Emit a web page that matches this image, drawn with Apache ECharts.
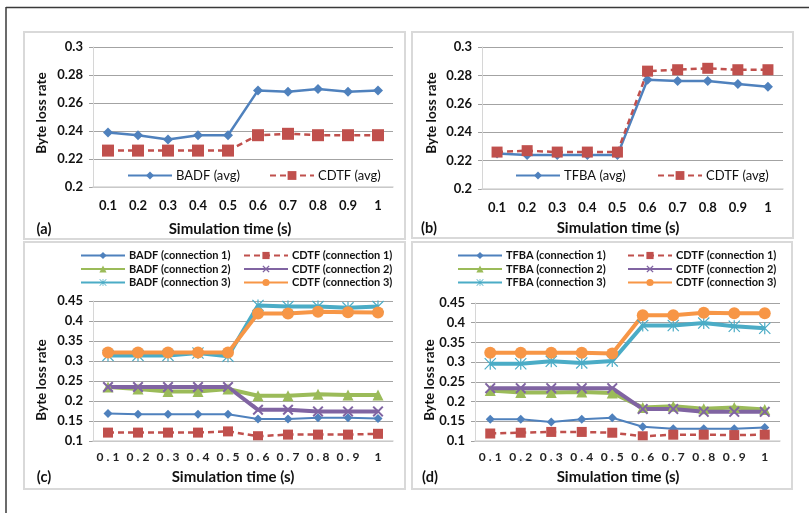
<!DOCTYPE html>
<html>
<head>
<meta charset="utf-8">
<script src="https://cdn.jsdelivr.net/npm/echarts@6/dist/echarts.min.js"></script>
<style>
html,body{margin:0;padding:0;background:#fff;}
#chart{width:809px;height:513px;}
</style>
</head>
<body>
<div id="chart"></div>
<script>
// ---- data ----
const categories = ['0.1','0.2','0.3','0.4','0.5','0.6','0.7','0.8','0.9','1'];
const yTicksAB = [0.2, 0.3, 0.02];
const yTicksCD = [0.1, 0.45, 0.05];
// panel (a)
const badfAvg  = [0.239,0.237,0.234,0.237,0.237,0.269,0.268,0.270,0.268,0.269];
const cdtfAvgA = [0.226,0.226,0.226,0.226,0.226,0.237,0.238,0.237,0.237,0.237];
// panel (b)
const tfbaAvg  = [0.225,0.224,0.224,0.224,0.224,0.277,0.276,0.276,0.274,0.272];
const cdtfAvgB = [0.226,0.227,0.226,0.226,0.226,0.283,0.284,0.285,0.284,0.284];
// panel (c)
const badfConn1  = [0.169,0.167,0.167,0.167,0.167,0.155,0.155,0.158,0.158,0.156];
const cdtfConn1C = [0.121,0.121,0.121,0.121,0.124,0.112,0.116,0.116,0.116,0.118];
const badfConn2  = [0.235,0.230,0.224,0.224,0.230,0.213,0.213,0.217,0.215,0.215];
const cdtfConn2C = [0.235,0.235,0.235,0.235,0.235,0.178,0.178,0.174,0.174,0.174];
const badfConn3  = [0.314,0.314,0.314,0.320,0.312,0.439,0.436,0.436,0.433,0.436];
const cdtfConn3C = [0.321,0.321,0.321,0.321,0.321,0.419,0.419,0.423,0.422,0.421];
// panel (d)
const tfbaConn1  = [0.155,0.155,0.148,0.155,0.159,0.136,0.131,0.131,0.131,0.134];
const cdtfConn1D = [0.119,0.121,0.123,0.123,0.121,0.112,0.116,0.116,0.115,0.116];
const tfbaConn2  = [0.228,0.223,0.223,0.224,0.222,0.185,0.188,0.182,0.185,0.180];
const cdtfConn2D = [0.234,0.234,0.234,0.234,0.234,0.181,0.181,0.174,0.174,0.174];
const tfbaConn3  = [0.296,0.296,0.302,0.298,0.303,0.393,0.393,0.399,0.391,0.386];
const cdtfConn3D = [0.324,0.324,0.324,0.324,0.322,0.419,0.419,0.425,0.424,0.424];

// ---- styles ----
const FONT = 'Lato, "Open Sans", sans-serif';
const TXT = '#111';
const C = {blue:'#4F81BD', red:'#C0504D', green:'#9BBB59', purple:'#8064A2', teal:'#4BACC6', orange:'#F79646'};
const X_PATH = 'path://M0,1.3 L1.3,0 L5,3.7 L8.7,0 L10,1.3 L6.3,5 L10,8.7 L8.7,10 L5,6.3 L1.3,10 L0,8.7 L3.7,5 Z';
const STAR_PATH = 'path://M0,0.7 L0.7,0 L5,4.3 L9.3,0 L10,0.7 L5.7,5 L10,9.3 L9.3,10 L5,5.7 L0.7,10 L0,9.3 L4.3,5 Z M4.5,0 L5.5,0 L5.5,10 L4.5,10 Z';

const grids = [
  {left:93, top:47, width:300, height:140},
  {left:482, top:47, width:301, height:142},
  {left:93, top:301, width:300, height:140},
  {left:475, top:303, width:305, height:138}
];

function xAxisFor(i, spaced, margin){
  return {
    type:'category', gridIndex:i, data:categories, boundaryGap:true,
    axisLine:{show:true, lineStyle:{color:'#d6d6d6', width:1.5}},
    axisTick:{show:false}, z:5,
    axisLabel:{
      interval:0, hideOverlap:false,
      margin:margin, color:TXT, fontFamily:FONT,
      fontSize: spaced ? 12 : 13, fontWeight: spaced ? 'normal' : 'bold',
      formatter: spaced ? (v => v.split('').map(ch => '{s|' + ch + '}').join('')) : undefined,
      rich: spaced ? {s:{fontFamily:FONT, fontSize:12, fontWeight:'bold', color:'#222', padding:[0,1.5,0,1.5]}} : undefined
    }
  };
}
function yAxisFor(i, t){
  return {
    type:'value', gridIndex:i, min:t[0], max:t[1], interval:t[2],
    axisLine:{show:true, lineStyle:{color:'#d6d6d6', width:1}},
    axisTick:{show:true, length:4, lineStyle:{color:'#a0a0a0'}},
    splitLine:{show:true, lineStyle:{color:'#a3a3a3', width:1}},
    axisLabel:{margin:10, color:TXT, fontFamily:FONT, fontSize:13, fontWeight:'bold'}
  };
}
function line(name, data, idx, color, symbol, size, width, dashed){
  return {
    type:'line', name:name, data:data, xAxisIndex:idx, yAxisIndex:idx,
    symbol:symbol, symbolSize:size, showAllSymbol:true,
    lineStyle:{color:color, width:width, type: dashed ? [6,4] : 'solid'},
    itemStyle:{color:color},
    emphasis:{disabled:true}, animation:false
  };
}
function legend(names, left, top, itemHeight, fontSize, bold, gap){
  return {
    data:names, left:left, top:top, orient:'vertical', itemWidth:44, itemHeight:itemHeight,
    itemGap:gap, selectedMode:false, padding:0,
    textStyle:{fontFamily:FONT, fontSize:fontSize, color:TXT, fontWeight: bold ? 'bold' : 'normal', padding:[0,0,0,-1]}
  };
}
function text(str, x, y, size, rot){
  return {
    type:'text', x:x, y:y, rotation: rot ? Math.PI/2 : 0, z:10,
    style:{text:str, x:0, y:0, fill:TXT, font:'bold ' + size + 'px ' + FONT, textAlign:'center', textVerticalAlign:'middle'}
  };
}
function box(x, y, w, h){
  return {type:'rect', shape:{x:x, y:y, width:w, height:h}, z:-10,
    style:{fill:'none', stroke:'#d9d9d9', lineWidth:2}};
}

const series = [
  line('BADF (avg)', badfAvg, 0, C.blue, 'diamond', 10, 2.5, false),
  line('CDTF (avg)', cdtfAvgA, 0, C.red, 'rect', 12, 2.5, true),
  line('TFBA (avg)', tfbaAvg, 1, C.blue, 'diamond', 10, 2.5, false),
  line('CDTF (avg)', cdtfAvgB, 1, C.red, 'rect', 11, 2.5, true),

  line('BADF (connection 1)', badfConn1, 2, C.blue, 'diamond', 9, 2, false),
  line('CDTF (connection 1)', cdtfConn1C, 2, C.red, 'rect', 10, 2.5, true),
  line('BADF (connection 2)', badfConn2, 2, C.green, 'triangle', 11, 4, false),
  line('CDTF (connection 2)', cdtfConn2C, 2, C.purple, X_PATH, 11, 4, false),
  line('BADF (connection 3)', badfConn3, 2, C.teal, STAR_PATH, 12, 4, false),
  line('CDTF (connection 3)', cdtfConn3C, 2, C.orange, 'circle', 12, 4, false),

  line('TFBA (connection 1)', tfbaConn1, 3, C.blue, 'diamond', 9, 2, false),
  line('CDTF (connection 1)', cdtfConn1D, 3, C.red, 'rect', 10, 2.5, true),
  line('TFBA (connection 2)', tfbaConn2, 3, C.green, 'triangle', 11, 4, false),
  line('CDTF (connection 2)', cdtfConn2D, 3, C.purple, X_PATH, 11, 4, false),
  line('TFBA (connection 3)', tfbaConn3, 3, C.teal, STAR_PATH, 12, 4, false),
  line('CDTF (connection 3)', cdtfConn3D, 3, C.orange, 'circle', 12, 4, false)
];

const option = {
  backgroundColor:'#fff',
  animation:false,
  grid: grids,
  xAxis:[xAxisFor(0,false,12), xAxisFor(1,false,12), xAxisFor(2,true,10), xAxisFor(3,true,10)],
  yAxis:[yAxisFor(0,yTicksAB), yAxisFor(1,yTicksAB), yAxisFor(2,yTicksCD), yAxisFor(3,yTicksCD)],
  legend:[
    legend(['BADF (avg)'], 127, 169, 10, 13, false, 0),
    legend(['CDTF (avg)'], 269, 169, 11, 13, false, 0),
    legend(['TFBA (avg)'], 515, 169, 10, 13, false, 0),
    legend(['CDTF (avg)'], 657, 169, 11, 13, false, 0),
    legend(['BADF (connection 1)','BADF (connection 2)','BADF (connection 3)'], 80, 250, 9, 11, true, 2.5),
    legend(['CDTF (connection 1)','CDTF (connection 2)','CDTF (connection 3)'], 243, 250, 9, 11, true, 2.5),
    legend(['TFBA (connection 1)','TFBA (connection 2)','TFBA (connection 3)'], 457, 250, 9, 11, true, 2.5),
    legend(['CDTF (connection 1)','CDTF (connection 2)','CDTF (connection 3)'], 627, 250, 9, 11, true, 2.5)
  ],
  graphic:[
    {type:'line', shape:{x1:6, y1:7.5, x2:809, y2:7.5}, style:{stroke:'#3a3a3a', lineWidth:1.5}, z:-10},
    {type:'line', shape:{x1:6, y1:7, x2:6, y2:513}, style:{stroke:'#3a3a3a', lineWidth:1.5}, z:-10},
    box(24, 32, 381, 207),
    box(412, 32, 381, 206),
    box(24, 242, 381, 247),
    box(412, 242, 380, 247),
    text('Byte loss rate', 42, 113, 13.5, true),
    text('Byte loss rate', 432, 113, 13.5, true),
    text('Byte loss rate', 42, 380, 13.5, true),
    text('Byte loss rate', 430, 380, 13.5, true),
    text('Simulation time (s)', 230, 229, 15, false),
    text('Simulation time (s)', 618, 228, 15, false),
    text('Simulation time (s)', 233, 477, 15, false),
    text('Simulation time (s)', 618, 477, 15, false),
    text('(a)', 44, 229, 14.5, false),
    text('(b)', 429, 228, 14.5, false),
    text('(c)', 44, 477, 14.5, false),
    text('(d)', 430, 477, 14.5, false)
  ],
  series: series
};

const chart = echarts.init(document.getElementById('chart'), null, {renderer:'canvas'});
chart.setOption(option);
</script>
</body>
</html>
